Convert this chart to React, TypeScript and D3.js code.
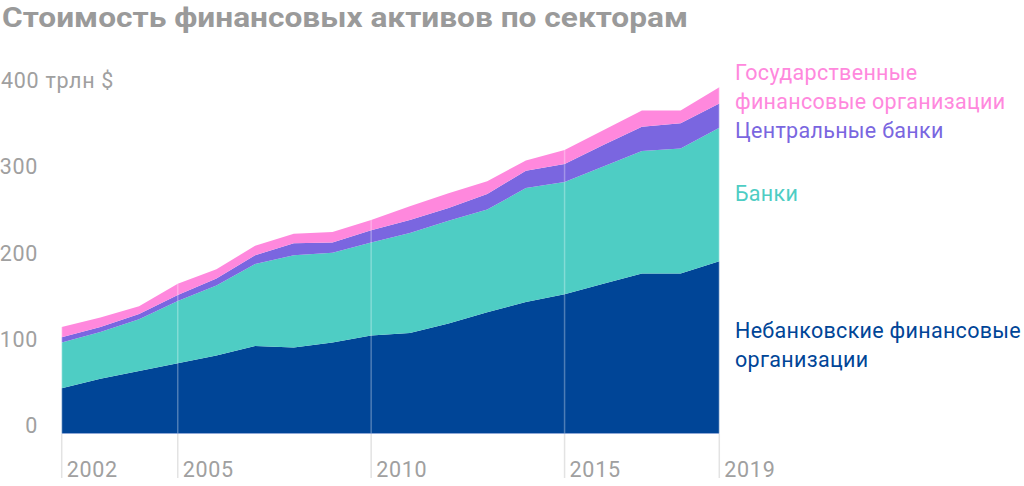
import React from "react";
import * as d3 from "d3";

const years = [2002, 2003, 2004, 2005, 2006, 2007, 2008, 2009, 2010, 2011, 2012, 2013, 2014, 2015, 2016, 2017, 2018, 2019];
const nonBank = [52, 63, 72, 81, 90, 101, 99, 105, 113, 116, 127, 140, 152, 161, 173, 185, 185, 199];
const banks = [53, 54, 60, 72, 81, 95, 107, 104, 108, 116, 119, 119, 132, 130, 136, 142, 145, 155];
const centralBanks = [6, 6, 6, 7, 8, 10, 14, 12, 14, 15, 15, 18, 20, 21, 25, 28, 29, 28];
const gov = [12, 11, 9, 13, 11, 11, 11, 12, 12, 16, 17, 15, 12, 16, 17, 19, 15, 19];

const seriesKeys = ["nonBank", "banks", "centralBanks", "gov"];
const seriesColors = ["#004597", "#4ecdc4", "#7a66e0", "#ff88dd"];
const yTicks = [0, 100, 200, 300, 400];
const xTicks = [2002, 2005, 2010, 2015, 2019];
const title = "Стоимость финансовых активов по секторам";

const legend = [
  { lines: ["Государственные", "финансовые организации"], color: "#ff88dd", y: 80 },
  { lines: ["Центральные банки"], color: "#7a66e0", y: 138 },
  { lines: ["Банки"], color: "#4ecdc4", y: 201 },
  { lines: ["Небанковские финансовые", "организации"], color: "#004597", y: 338 },
];

export default function App() {
  const W = 1024, H = 486;
  const x = d3.scaleLinear().domain([2002, 2019]).range([61.7, 719.3]);
  const y = d3.scaleLinear().domain([0, 400]).range([433, 88]);

  const rows = years.map((yr, i) => ({
    year: yr,
    nonBank: nonBank[i],
    banks: banks[i],
    centralBanks: centralBanks[i],
    gov: gov[i],
  }));
  const stacked = d3.stack<any>().keys(seriesKeys)(rows);
  const area = d3
    .area<any>()
    .x((d) => x(d.data.year))
    .y0((d) => y(d[0]))
    .y1((d) => y(d[1]));
  const topOf = (yr: number) => {
    const i = years.indexOf(yr);
    return y(stacked[stacked.length - 1][i][1]);
  };
  const font = "Roboto, 'Noto Sans', sans-serif";
  const ls = 0.7;

  return (
    <svg width={W} height={H} style={{ position: "absolute", left: 0, top: 0, background: "#fff" }}>
      <text x={2} y={27} fontFamily={font} fontWeight={700} fontSize={28} fill="#9a9a9a" textLength={686} lengthAdjust="spacingAndGlyphs">
        {title}
      </text>
      {stacked.map((s, i) => (
        <path key={i} d={area(s) || ""} fill={seriesColors[i]} />
      ))}
      <line x1={x(2002)} x2={x(2019)} y1={433.5} y2={433.5} stroke="#8fa8d6" strokeWidth={1} />
      {xTicks.map((t) => (
        <g key={t}>
          <line x1={x(t)} x2={x(t)} y1={topOf(t)} y2={433} stroke="rgba(255,255,255,0.3)" strokeWidth={1.5} />
          <line x1={x(t)} x2={x(t)} y1={434} y2={478} stroke="#e3e3e3" strokeWidth={1.5} />
          <text x={x(t) + 5} y={477} fontFamily={font} fontSize={21.5} letterSpacing={ls} fill="#a0a0a0">
            {t}
          </text>
        </g>
      ))}
      {yTicks.map((t) =>
        t === 400 ? (
          <text key={t} x={1} y={y(t)} fontFamily={font} fontSize={21.5} letterSpacing={ls} fill="#a0a0a0">
            {t} трлн $
          </text>
        ) : (
          <text key={t} x={38} y={y(t)} textAnchor="end" fontFamily={font} fontSize={21.5} letterSpacing={ls} fill="#a0a0a0">
            {t}
          </text>
        )
      )}
      {legend.map((l, i) => (
        <text key={i} fontFamily={font} fontSize={21.5} letterSpacing={0.3} fill={l.color}>
          {l.lines.map((ln, j) => (
            <tspan key={j} x={735} y={l.y + j * 29}>
              {ln}
            </tspan>
          ))}
        </text>
      ))}
    </svg>
  );
}
